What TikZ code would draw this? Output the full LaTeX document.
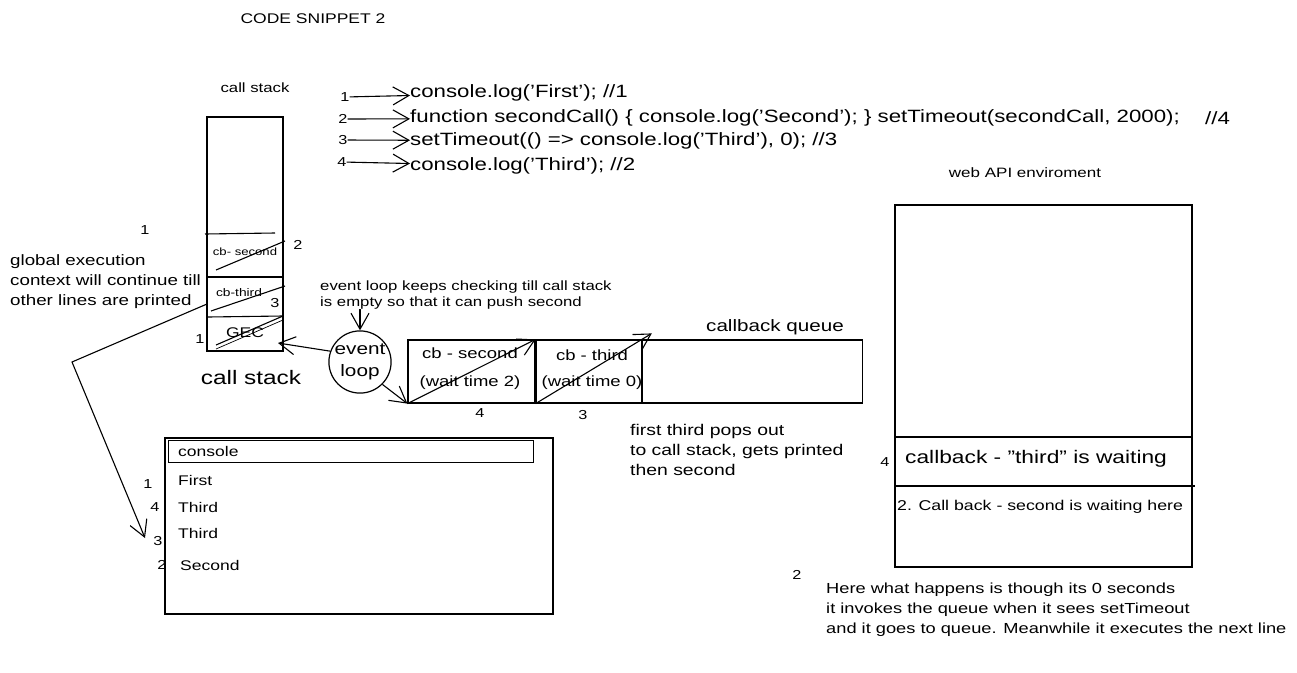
\documentclass[tikz,border=0pt]{standalone}
\usepackage{fontspec}
\setmainfont{Liberation Sans}[FakeStretch=1.25]
\usetikzlibrary{arrows.meta, positioning}
\newcommand*{\fsz}[2]{\fontsize{#1}{#2}\selectfont}
\tikzstyle{box} = [draw, line width=1.2pt, rectangle, inner sep=0pt]
\tikzstyle{code} = [anchor=west, inner sep=0pt, font=\fsz{17.8}{23}]
\tikzstyle{note} = [anchor=west, inner sep=0pt, align=left, font=\fsz{15}{20}]
\tikzstyle{small} = [inner sep=0pt, align=left, font=\fsz{13.4}{16}]
\tikzstyle{num} = [inner sep=0pt, font=\fsz{13}{15}]
\tikzstyle{link} = [-{Straight Barb[length=16pt, width=18pt, line width=1.1pt]}, line width=1.1pt]
\tikzstyle{cross} = [line width=1.1pt]

\begin{document}
\begin{tikzpicture}[x=1pt, y=-1pt, node distance=6pt]
    \useasboundingbox (0,0) rectangle (1297,672);
    \node (title) [small, font=\fsz{14}{16}] at (313,19) {CODE SNIPPET 2};

    % Code lines.
    \node (line1) [code] at (410,93) {console.log('First'); //1};
    \node (line2) [code] at (410,118) {function secondCall() \{ console.log('Second'); \} setTimeout(secondCall, 2000);};
    \node (line3) [code] at (410,141) {setTimeout(() => console.log('Third'), 0); //3};
    \node (line4) [code] at (410,166) {console.log('Third'); //2};
    \node (line2 tag) [code] at (1205,118) {//4};
    \node (n1) [num] at (345,97) {1};
    \node (n2) [num] at (343,119) {2};
    \node (n3) [num] at (343,140) {3};
    \node (n4) [num] at (342,162) {4};
    \draw [link] (n1) -- (line1);
    \draw [link] (n2) -- (line2);
    \draw [link] (n3) -- (line3);
    \draw [link] (n4) -- (line4);

    % Call stack.
    \node (stack) [box, minimum width=76pt, minimum height=234pt] at (245,234) {};
    \node (stack title) [small] at (255,88) {call stack};
    \node (stack label) [inner sep=0pt, font=\fsz{19.5}{22}] at (251,378) {call stack};
    \draw [cross] (205,234) -- (275,233);
    \draw [cross] (208,277) -- (283,277);
    \draw [cross] (208,317) -- (283,316);
    \node (cb second) [inner sep=0pt, font=\fsz{10.5}{14}] at (245,252) {cb- second};
    \node (cb third) [inner sep=0pt, font=\fsz{11}{14}] at (239,293) {cb-third};
    \node (gec) [inner sep=0pt, font=\fsz{14}{16}] at (245,333) {GEC};
    \draw [cross] (216,270) -- (285,241);
    \draw [cross] (211,311) -- (285,286);
    \draw [cross] (216,345) -- (283,316);
    \draw [cross, line width=0.7pt] (216,349) -- (283,320);
    \node (s1) [num] at (145,230) {1};
    \node (s2) [num] at (298,245) {2};
    \node (s3) [num] at (275,303) {3};
    \node (s4) [num] at (200,339) {1};

    \node (gec note) [note] at (10,282) {global execution\\context will continue till\\other lines are printed};
    \coordinate (gec out) at (207,304);
    \coordinate (gec bend) at (72,362);
    \coordinate (gec end) at (145,538);
    \draw [link] (gec out) -- (gec bend) -- (gec end);

    % Event loop.
    \node (loop) [draw, line width=1.2pt, circle, minimum size=62pt, inner sep=0pt, align=center, font=\fsz{16.6}{22}] at (360,362) {event\\loop};
    \node (loop note) [small, anchor=west] at (320,295) {event loop keeps checking till call stack\\is empty so that it can push second};
    \coordinate (gec in) at (278,343);
    \draw [link] (loop.160) -- (gec in);
    \draw [link] (loop note.south west -| loop) -- (loop);

    % Callback queue.
    \node (slot second) [box, minimum width=127pt, minimum height=63pt] at (471.5,371.5) {};
    \node (slot third) [box, minimum width=105pt, minimum height=63pt, right=0pt of slot second] {};
    \node (slot free) [box, minimum width=220pt, minimum height=63pt, right=0pt of slot third] {};
    \node (queue label) [small, font=\fsz{16.5}{18}] at (775,327) {callback queue};
    \node (text second) [inner sep=0pt, align=center, font=\fsz{14.8}{28}] at (470,369) {cb - second\\(wait time 2)};
    \node (text third) [inner sep=0pt, align=center, font=\fsz{14.8}{26}] at (592,370) {cb - third\\(wait time 0)};
    \node (q4) [num] at (480,413) {4};
    \node (q3) [num] at (583,415) {3};
    \draw [link] (loop.south east) -- (slot second.south west);
    \draw [link] (slot second.south west) -- (slot second.north east);
    \draw [link] (slot third.south west) -- ([xshift=10pt, yshift=6pt]slot third.north east);
    \node (pop note) [note, font=\fsz{15.5}{20}] at (630,450) {first third pops out\\to call stack, gets printed\\then second};

    % Console.
    \node (console) [box, minimum width=388pt, minimum height=176pt] at (359,526) {};
    \node (console head) [box, line width=0.9pt, minimum width=365pt, minimum height=22pt, anchor=north west] at (168,440) {};
    \node (console title) [note, font=\fsz{14}{16}] at (178,451) {console};
    \node (out1) [note, font=\fsz{14}{16}] at (178,480) {First};
    \node (out2) [note, font=\fsz{14}{16}] at (178,507) {Third};
    \node (out3) [note, font=\fsz{14}{16}] at (178,533) {Third};
    \node (out4) [note, font=\fsz{14}{16}] at (180,565) {Second};
    \node (c1) [num] at (148,484) {1};
    \node (c2) [num] at (155,507) {4};
    \node (c3) [num] at (158,541) {3};
    \node (c4) [num] at (162,565) {2};

    % Web API.
    \node (web api) [box, minimum width=297pt, minimum height=362pt] at (1043.5,386) {};
    \node (web label) [small, font=\fsz{13.6}{16}] at (1025,173) {web API enviroment};
    \draw [cross] (895,437) -- (1192,437);
    \draw [cross] (895,486) -- (1195,486);
    \node (w4) [num] at (885,462) {4};
    \node (wait third) [note, font=\fsz{18.2}{20}] at (905,459) {callback - "third" is waiting};
    \node (wait second) [note, font=\fsz{14.2}{18}] at (897,507) {2. Call back - second is waiting here};
    \node (b2) [num] at (797,575) {2};
    \node (web note) [note, font=\fsz{14.6}{20}] at (826,610) {Here what happens is though its 0 seconds\\it invokes the queue when it sees setTimeout\\and it goes to queue. Meanwhile it executes the next line};
\end{tikzpicture}
\end{document}
